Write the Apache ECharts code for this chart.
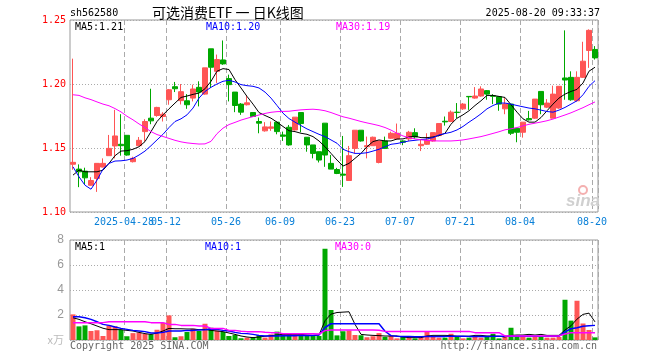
<!DOCTYPE html>
<html><head><meta charset="utf-8">
<script src="https://cdn.jsdelivr.net/npm/echarts@6/dist/echarts.min.js"></script>
<style>html,body{margin:0;padding:0;background:#fff}#c{width:660px;height:360px}</style>
</head><body><div id="c"></div>
<script>
const dates = ['2025-04-15','2025-04-16','2025-04-17','2025-04-18','2025-04-21','2025-04-22','2025-04-23','2025-04-24','2025-04-25','2025-04-28','2025-04-29','2025-04-30','2025-05-06','2025-05-07','2025-05-08','2025-05-09','2025-05-12','2025-05-13','2025-05-14','2025-05-15','2025-05-16','2025-05-19','2025-05-20','2025-05-21','2025-05-22','2025-05-23','2025-05-26','2025-05-27','2025-05-28','2025-05-29','2025-05-30','2025-06-03','2025-06-04','2025-06-05','2025-06-06','2025-06-09','2025-06-10','2025-06-11','2025-06-12','2025-06-13','2025-06-16','2025-06-17','2025-06-18','2025-06-19','2025-06-20','2025-06-23','2025-06-24','2025-06-25','2025-06-26','2025-06-27','2025-06-30','2025-07-01','2025-07-02','2025-07-03','2025-07-04','2025-07-07','2025-07-08','2025-07-09','2025-07-10','2025-07-11','2025-07-14','2025-07-15','2025-07-16','2025-07-17','2025-07-18','2025-07-21','2025-07-22','2025-07-23','2025-07-24','2025-07-25','2025-07-28','2025-07-29','2025-07-30','2025-07-31','2025-08-01','2025-08-04','2025-08-05','2025-08-06','2025-08-07','2025-08-08','2025-08-11','2025-08-12','2025-08-13','2025-08-14','2025-08-15','2025-08-18','2025-08-19','2025-08-20'];

const tickDates = ['2025-04-28','2025-05-12','2025-05-26','2025-06-09','2025-06-23','2025-07-07','2025-07-21','2025-08-04','2025-08-20'];
const tickTexts = ['2025-04-28','05-12','05-26','06-09','06-23','07-07','07-21','08-04','08-20'];

const openP = [1.1373,1.1335,1.1319,1.1209,1.1262,1.1351,1.1440,1.1516,1.1529,1.1599,1.1393,1.1518,1.1628,1.1733,1.1754,1.1746,1.1877,1.1979,1.1870,1.1869,1.1890,1.1974,1.1921,1.2275,1.2099,1.2188,1.2042,1.1937,1.1843,1.1838,1.1777,1.1707,1.1634,1.1654,1.1702,1.1602,1.1662,1.1641,1.1777,1.1584,1.1524,1.1471,1.1694,1.1380,1.1332,1.1296,1.1246,1.1497,1.1639,1.1510,1.1518,1.1387,1.1555,1.1576,1.1571,1.1555,1.1571,1.1620,1.1518,1.1529,1.1555,1.1597,1.1709,1.1707,1.1780,1.1806,1.1903,1.1890,1.1906,1.1948,1.1908,1.1901,1.1806,1.1843,1.1654,1.1623,1.1730,1.1733,1.1942,1.1819,1.1733,1.1812,1.2047,1.2052,1.1869,1.2052,1.2262,1.2270];
const closeP = [1.1388,1.1314,1.1267,1.1246,1.1380,1.1380,1.1497,1.1594,1.1518,1.1445,1.1419,1.1560,1.1707,1.1712,1.1817,1.1764,1.1955,1.1963,1.1940,1.1838,1.1961,1.1937,1.2126,1.2131,1.2191,1.2157,1.1995,1.1832,1.1780,1.1853,1.1746,1.1694,1.1665,1.1665,1.1628,1.1592,1.1524,1.1741,1.1691,1.1524,1.1458,1.1406,1.1445,1.1335,1.1301,1.1288,1.1440,1.1639,1.1555,1.1518,1.1584,1.1555,1.1497,1.1615,1.1615,1.1545,1.1623,1.1586,1.1529,1.1563,1.1620,1.1691,1.1704,1.1780,1.1777,1.1843,1.1900,1.1906,1.1961,1.1921,1.1904,1.1843,1.1843,1.1615,1.1623,1.1702,1.1720,1.1882,1.1838,1.1851,1.1921,1.1982,1.2031,1.1877,1.2052,1.2178,1.2419,1.2204];
const lowP = [1.1330,1.1194,1.1217,1.1205,1.1157,1.1348,1.1440,1.1419,1.1440,1.1440,1.1387,1.1515,1.1550,1.1686,1.1744,1.1707,1.1838,1.1937,1.1840,1.1806,1.1864,1.1825,1.1916,1.1969,1.2008,1.2150,1.1864,1.1780,1.1759,1.1832,1.1743,1.1615,1.1628,1.1634,1.1607,1.1555,1.1518,1.1636,1.1623,1.1471,1.1419,1.1387,1.1353,1.1335,1.1296,1.1196,1.1246,1.1458,1.1550,1.1419,1.1518,1.1380,1.1492,1.1571,1.1571,1.1522,1.1555,1.1571,1.1476,1.1524,1.1550,1.1589,1.1675,1.1702,1.1733,1.1798,1.1798,1.1885,1.1901,1.1877,1.1843,1.1791,1.1764,1.1602,1.1545,1.1581,1.1715,1.1728,1.1764,1.1812,1.1733,1.1806,1.1877,1.1869,1.1864,1.2047,1.2126,1.2191];
const highP = [1.2198,1.1372,1.1346,1.1272,1.1380,1.1419,1.1602,1.1798,1.1764,1.1599,1.1432,1.1586,1.1725,1.1963,1.1822,1.1780,1.1961,1.2016,1.2000,1.1921,1.1995,1.2021,1.2126,1.2275,1.2230,1.2340,1.2073,1.1937,1.1851,1.1911,1.1777,1.1738,1.1702,1.1707,1.1707,1.1628,1.1680,1.1741,1.1777,1.1584,1.1524,1.1471,1.1694,1.1445,1.1345,1.1594,1.1516,1.1639,1.1639,1.1589,1.1589,1.1555,1.1589,1.1628,1.1691,1.1560,1.1634,1.1654,1.1563,1.1615,1.1620,1.1691,1.1746,1.1793,1.1851,1.1851,1.1906,1.1976,1.1982,1.1953,1.1921,1.1901,1.1890,1.1843,1.1654,1.1702,1.1790,1.1882,1.1942,1.1882,1.1987,1.1982,1.2419,1.2099,1.2099,1.2330,1.2427,1.2296];

const ma5 = [1.1288,1.1327,1.1314,1.1314,1.1314,1.1327,1.1380,1.1440,1.1476,1.1479,1.1490,1.1510,1.1550,1.1628,1.1707,1.1759,1.1806,1.1851,1.1895,1.1906,1.1919,1.1929,1.1963,1.2021,1.2100,1.2120,1.2113,1.2034,1.1969,1.1903,1.1843,1.1777,1.1754,1.1733,1.1702,1.1668,1.1635,1.1628,1.1615,1.1607,1.1589,1.1555,1.1510,1.1458,1.1406,1.1359,1.1380,1.1419,1.1458,1.1510,1.1550,1.1563,1.1555,1.1555,1.1570,1.1571,1.1586,1.1592,1.1581,1.1581,1.1586,1.1597,1.1615,1.1686,1.1733,1.1759,1.1791,1.1832,1.1869,1.1911,1.1911,1.1903,1.1895,1.1838,1.1780,1.1728,1.1702,1.1702,1.1738,1.1791,1.1843,1.1890,1.1921,1.1942,1.1958,1.2008,1.2100,1.2131];
const ma10 = [1.1353,1.1275,1.1209,1.1178,1.1249,1.1335,1.1380,1.1398,1.1400,1.1406,1.1419,1.1445,1.1476,1.1518,1.1563,1.1607,1.1660,1.1707,1.1728,1.1759,1.1812,1.1890,1.1942,1.1974,1.2000,1.2021,1.2029,1.2016,1.1995,1.1987,1.1982,1.1969,1.1937,1.1890,1.1832,1.1772,1.1730,1.1702,1.1675,1.1649,1.1628,1.1607,1.1589,1.1563,1.1537,1.1490,1.1471,1.1458,1.1458,1.1463,1.1476,1.1490,1.1510,1.1529,1.1535,1.1545,1.1555,1.1560,1.1566,1.1571,1.1581,1.1602,1.1613,1.1623,1.1641,1.1668,1.1702,1.1733,1.1767,1.1806,1.1832,1.1851,1.1851,1.1843,1.1832,1.1822,1.1812,1.1806,1.1796,1.1785,1.1780,1.1796,1.1817,1.1843,1.1869,1.1916,1.1982,1.2026];
const ma30 = [1.1916,1.1911,1.1892,1.1878,1.1860,1.1843,1.1830,1.1808,1.1782,1.1748,1.1720,1.1688,1.1660,1.1628,1.1605,1.1590,1.1575,1.1560,1.1548,1.1540,1.1535,1.1531,1.1532,1.1552,1.1612,1.1655,1.1683,1.1700,1.1718,1.1732,1.1745,1.1758,1.1770,1.1779,1.1784,1.1786,1.1787,1.1793,1.1798,1.1801,1.1803,1.1799,1.1791,1.1777,1.1760,1.1744,1.1733,1.1720,1.1707,1.1696,1.1686,1.1675,1.1660,1.1640,1.1615,1.1594,1.1581,1.1571,1.1564,1.1559,1.1556,1.1555,1.1555,1.1555,1.1558,1.1563,1.1571,1.1580,1.1589,1.1601,1.1614,1.1627,1.1642,1.1650,1.1660,1.1673,1.1685,1.1694,1.1703,1.1713,1.1726,1.1742,1.1758,1.1775,1.1795,1.1815,1.1838,1.1860];

const volume = [2.05,1.09,1.17,0.72,0.78,0.32,1.18,1.10,0.80,0.30,0.55,0.60,0.48,0.46,0.82,1.38,1.97,0.22,0.30,0.64,0.90,0.72,1.30,0.98,0.75,0.64,0.32,0.40,0.14,0.19,0.24,0.40,0.19,0.45,0.67,0.56,0.56,0.32,0.50,0.40,0.40,0.32,7.30,2.40,0.37,0.70,0.76,0.40,0.38,0.22,0.30,0.55,0.25,0.35,0.13,0.24,0.19,0.13,0.24,0.64,0.24,0.19,0.19,0.50,0.32,0.13,0.19,0.24,0.19,0.24,0.50,0.13,0.24,0.98,0.33,0.32,0.19,0.32,0.24,0.19,0.19,0.24,3.22,1.55,3.14,1.32,0.80,0.21];
const volMa5 = [1.78,1.65,1.46,1.30,1.12,0.94,0.83,0.83,0.83,0.77,0.72,0.61,0.51,0.45,0.56,0.72,0.93,0.90,0.90,0.88,0.88,0.83,0.85,0.77,0.72,0.67,0.56,0.45,0.32,0.24,0.19,0.24,0.30,0.35,0.40,0.45,0.45,0.45,0.45,0.40,0.37,0.40,1.54,2.07,2.20,2.23,2.26,1.25,0.45,0.40,0.37,0.35,0.32,0.32,0.32,0.24,0.19,0.19,0.19,0.32,0.37,0.37,0.37,0.35,0.30,0.30,0.30,0.37,0.37,0.32,0.32,0.30,0.24,0.37,0.40,0.40,0.45,0.40,0.45,0.37,0.37,0.37,0.80,1.14,1.67,2.05,2.15,1.45];
const volMa10 = [1.86,1.86,1.78,1.65,1.46,1.25,1.17,1.04,0.93,0.85,0.77,0.72,0.67,0.56,0.56,0.61,0.72,0.72,0.72,0.77,0.77,0.80,0.82,0.88,0.85,0.77,0.72,0.61,0.53,0.51,0.45,0.37,0.32,0.32,0.32,0.34,0.34,0.34,0.37,0.37,0.37,0.40,1.00,1.30,1.30,1.30,1.30,1.30,1.30,1.30,1.30,1.30,0.70,0.35,0.30,0.28,0.28,0.27,0.27,0.28,0.29,0.29,0.29,0.30,0.30,0.30,0.29,0.29,0.28,0.28,0.29,0.30,0.30,0.30,0.31,0.30,0.30,0.30,0.29,0.30,0.30,0.30,0.65,0.90,0.98,1.10,1.14,1.17];
const volMa30 = [1.39,1.39,1.39,1.39,1.39,1.39,1.46,1.46,1.46,1.46,1.46,1.46,1.46,1.39,1.39,1.39,1.25,1.25,1.17,1.17,1.17,1.12,1.12,0.93,0.93,0.93,0.77,0.77,0.70,0.67,0.67,0.67,0.62,0.59,0.59,0.50,0.50,0.50,0.50,0.50,0.50,0.48,0.75,0.80,0.80,0.80,0.80,0.80,0.80,0.80,0.80,0.78,0.69,0.69,0.69,0.69,0.69,0.69,0.69,0.69,0.69,0.69,0.69,0.69,0.69,0.69,0.69,0.59,0.59,0.59,0.59,0.59,0.33,0.33,0.33,0.33,0.33,0.33,0.33,0.33,0.33,0.33,0.48,0.59,0.59,0.59,0.59,0.59];

const UP = '#ff5555', DOWN = '#00a800';
const MONO = '"DejaVu Sans Mono", "Liberation Mono", monospace';

const kData = dates.map((d, i) => [openP[i], closeP[i], lowP[i], highP[i]]);
const volData = volume.map((v, i) => ({ value: v, itemStyle: { color: closeP[i] >= openP[i] ? UP : DOWN } }));

const isTick = (idx, val) => tickDates.indexOf(val) >= 0;
const isFirstTick = (idx, val) => val === tickDates[0];
const isLaterTick = (idx, val) => tickDates.indexOf(val) > 0;
const splitStyle = { show: true, interval: isTick, lineStyle: { color: '#aaa', type: [5, 3], width: 1 } };
const dotStyle = { show: true, lineStyle: { color: '#aaa', type: [1, 2], width: 1 } };
const labelBase = { show: true, hideOverlap: false, color: '#0a80d8', fontFamily: MONO, fontSize: 10, margin: 5, padding: [0, 6, 0, 0],
  formatter: (v) => { const k = tickDates.indexOf(v); return k >= 0 ? tickTexts[k] : ''; } };

const chart = echarts.init(document.getElementById('c'), null, { renderer: 'canvas' });
const lineS = (name, data, color, xi, yi, w) => ({
  name, type: 'line', data, xAxisIndex: xi, yAxisIndex: yi, symbol: 'none', silent: true,
  lineStyle: { color, width: w }, z: 3, animation: false
});
const txt = (x, y, text, fill, font, align) => ({
  type: 'text', x, y, silent: true, z: 100,
  style: { text, fill, font: font || ('10px ' + MONO), textAlign: align || 'left', textVerticalAlign: 'middle' }
});

chart.setOption({
  animation: false,
  backgroundColor: '#fff',
  grid: [
    { left: 70, top: 20, width: 528, height: 192, show: true, borderColor: '#999', borderWidth: 1, backgroundColor: 'transparent' },
    { left: 70, top: 240, width: 528, height: 100, show: true, borderColor: '#999', borderWidth: 1, backgroundColor: 'transparent' }
  ],
  xAxis: [
    { type: 'category', gridIndex: 0, data: dates, boundaryGap: true,
      axisLine: { show: false }, axisTick: { show: false },
      axisLabel: Object.assign({}, labelBase, { interval: isLaterTick }),
      splitLine: splitStyle },
    { type: 'category', gridIndex: 1, data: dates, boundaryGap: true,
      axisLine: { show: false }, axisTick: { show: false }, axisLabel: { show: false },
      splitLine: splitStyle },
    { type: 'category', gridIndex: 0, data: dates, boundaryGap: true, position: 'bottom',
      axisLine: { show: false }, axisTick: { show: false }, splitLine: { show: false },
      axisLabel: Object.assign({}, labelBase, { interval: isFirstTick }) }
  ],
  yAxis: [
    { type: 'value', gridIndex: 0, min: 1.10, max: 1.25, interval: 0.05, scale: true,
      axisLine: { show: false }, axisTick: { show: false },
      axisLabel: { color: '#ff0000', fontFamily: MONO, fontSize: 10, margin: 4, formatter: (v) => v.toFixed(2) },
      splitLine: dotStyle },
    { type: 'value', gridIndex: 1, min: 0, max: 8, interval: 2,
      axisLine: { show: false }, axisTick: { show: false },
      axisLabel: { color: '#999', fontFamily: '"Liberation Sans", Arial, sans-serif', fontSize: 12, margin: 6, formatter: (v) => v === 0 ? '' : String(v) },
      splitLine: dotStyle }
  ],
  series: [
    { name: 'K', type: 'candlestick', xAxisIndex: 0, yAxisIndex: 0, data: kData, barWidth: 5, silent: true,
      itemStyle: { color: UP, color0: DOWN, borderColor: UP, borderColor0: DOWN, borderWidth: 1 } },
    lineS('MA5', ma5, '#000000', 0, 0, 1),
    lineS('MA10', ma10, '#0000ff', 0, 0, 1),
    lineS('MA30', ma30, '#ff00ff', 0, 0, 1),
    { name: 'VOL', type: 'bar', xAxisIndex: 1, yAxisIndex: 1, data: volData, barWidth: 5, silent: true },
    lineS('VMA5', volMa5, '#000000', 1, 1, 1),
    lineS('VMA10', volMa10, '#0000ff', 1, 1, 1.5),
    lineS('VMA30', volMa30, '#ff00ff', 1, 1, 1.5)
  ],
  graphic: [
    txt(70, 13, 'sh562580', '#000'),
    txt(152, 13, '可选消费ETF 一 日K线图', '#000', '14px "Noto Sans CJK SC", sans-serif'),
    txt(600, 13, '2025-08-20 09:33:37', '#000', null, 'right'),
    txt(75, 27, 'MA5:1.21', '#000'),
    txt(206, 27, 'MA10:1.20', '#0000ff'),
    txt(336, 27, 'MA30:1.19', '#ff00ff'),
    txt(75, 247, 'MA5:1', '#000'),
    txt(205, 247, 'MA10:1', '#0000ff'),
    txt(335, 247, 'MA30:0', '#ff00ff'),
    txt(70, 346, 'Copyright 2025 SINA.COM', '#666'),
    txt(597, 346, 'http://finance.sina.com.cn', '#666', null, 'right'),
    txt(64, 340, 'x万', '#bbb', '11px "Noto Sans CJK SC", sans-serif', 'right'),
    txt(566, 201, 'sina', '#d0d0d0', 'italic bold 17px "Liberation Sans", Arial, sans-serif'),
    { type: 'circle', shape: { cx: 583, cy: 190, r: 4 }, style: { fill: 'none', stroke: '#f4b0b0', lineWidth: 2 }, silent: true, z: 100 }
  ]
});
</script></body></html>
